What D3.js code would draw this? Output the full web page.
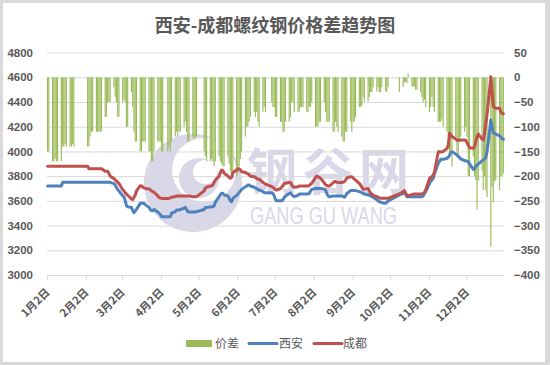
<!doctype html>
<html lang="zh">
<head>
<meta charset="UTF-8">
<title>西安-成都螺纹钢价格差趋势图</title>
<style>
  body { margin: 0; background: #fff; }
  svg text { fill: #595959; }
  .num { font-family: "Liberation Sans", Arial, sans-serif; font-size: 11.5px; font-weight: bold; }
  .cjk { font-family: "Noto Sans CJK SC", sans-serif; }
  .grid line { stroke: #d9d9d9; stroke-width: 1px; }
  .grid path { display: none; }
  .xaxis path { stroke: none; }
  .xaxis line { stroke: #d9d9d9; }
  .bar { fill: #9bbb59; }
  .line { fill: none; stroke-width: 3px; stroke-linejoin: round; stroke-linecap: round; }
  .mark { fill: #d8d8e8; }
</style>
</head>
<body>
<svg width="550" height="365"></svg>
<script src="https://cdn.jsdelivr.net/npm/d3@7"></script>
<script>
  // 月份刻度
  const monthLabels = ['1月2日', '2月2日', '3月2日', '4月2日', '5月2日', '6月2日',
    '7月2日', '8月2日', '9月2日', '10月2日', '11月2日', '12月2日']
  const leftTicks = [3000, 3200, 3400, 3600, 3800, 4000, 4200, 4400, 4600, 4800]
  const rightTicks = [-400, -350, -300, -250, -200, -150, -100, -50, 0, 50]
  // 休市的日期段 (2020)
  const holidays = [['2020-01-24', '2020-02-02'], ['2020-04-04', '2020-04-06'],
    ['2020-05-01', '2020-05-05'], ['2020-06-25', '2020-06-27'], ['2020-10-01', '2020-10-08']]

  // 西安 每个交易日
  const xian = [
    3720, 3720, 3720, 3720, 3720, 3720, 3720, 3720, 3750, 3750, 3750, 3750, 3750, 3750, 3750, 3750,
    3750, 3750, 3750, 3750, 3750, 3750, 3750, 3750, 3750, 3750, 3750, 3750, 3750, 3750, 3750, 3740, 3727, 3710, 3690, 3680,
    3640, 3634, 3600, 3560, 3553, 3547, 3520, 3504, 3520, 3531, 3580, 3580, 3580, 3580, 3570, 3547, 3530, 3520, 3520, 3531, 3510, 3500,
    3490, 3472, 3472, 3472, 3472, 3472, 3500, 3513, 3526, 3526, 3526, 3530, 3540, 3547, 3530, 3513, 3510, 3510, 3510, 3510, 3513,
    3530, 3547, 3547, 3550, 3553, 3553, 3560, 3590, 3634, 3650, 3661, 3661, 3648, 3640, 3620, 3600, 3594, 3620,
    3645, 3656, 3670, 3680, 3693, 3715, 3720, 3729, 3729, 3720, 3710, 3705, 3700, 3690, 3688, 3675, 3666, 3666, 3666, 3660,
    3640, 3610, 3600, 3600, 3600, 3610, 3629, 3640, 3660, 3666, 3650, 3640, 3634, 3645, 3656, 3656, 3656, 3656, 3656, 3656, 3660, 3680, 3693,
    3700, 3701, 3701, 3701, 3701, 3695, 3688, 3660, 3640, 3634, 3640, 3640, 3640, 3640, 3640, 3640, 3635, 3629, 3640, 3660, 3683,
    3683, 3683, 3683, 3683, 3675, 3670, 3666, 3660, 3655, 3648, 3645, 3640, 3634, 3630, 3610, 3600, 3594, 3590, 3585, 3580, 3590, 3599,
    3648, 3660, 3666, 3650, 3634, 3634, 3634, 3634, 3634, 3634, 3634, 3634, 3634, 3640, 3660, 3675,
    3740, 3760, 3770, 3782, 3820, 3904, 3920, 3936, 3936, 3936, 3945, 3953, 3970, 3990, 3998, 3980, 3971, 3960, 3950, 3940, 3925,
    3925, 3920, 3917, 3900, 3855, 3860, 3880, 3890, 3898, 3925, 3931, 3940, 3953, 4000, 4255, 4200, 4150, 4147, 4140, 4126, 4115, 4105, 4098
  ]

  // 成都
  const chengdu = [
    3880, 3880, 3880, 3880, 3880, 3880, 3880, 3880, 3880, 3880, 3880, 3880, 3880, 3880, 3880, 3880,
    3880, 3860, 3860, 3860, 3860, 3860, 3860, 3860, 3860, 3860, 3840, 3840, 3840, 3820, 3800, 3780, 3770, 3760, 3750, 3740,
    3690, 3680, 3665, 3655, 3645, 3615, 3610, 3630, 3648, 3680, 3723, 3720, 3712, 3705, 3700, 3696, 3690, 3680, 3675, 3670, 3640, 3625,
    3625, 3620, 3620, 3620, 3620, 3625, 3630, 3635, 3640, 3640, 3640, 3640, 3640, 3640, 3640, 3640, 3640, 3634, 3634, 3634, 3634,
    3680, 3705, 3710, 3720, 3720, 3730, 3750, 3769, 3800, 3830, 3850, 3845, 3823, 3800, 3790, 3782, 3790, 3830,
    3850, 3860, 3860, 3850, 3836, 3830, 3823, 3820, 3810, 3800, 3796, 3790, 3780, 3775, 3775, 3750, 3742, 3735, 3715, 3710,
    3700, 3690, 3688, 3700, 3710, 3725, 3740, 3742, 3748, 3748, 3730, 3715, 3710, 3715, 3720, 3720, 3720, 3720, 3720, 3720, 3725, 3735, 3742,
    3790, 3801, 3795, 3790, 3782, 3745, 3729, 3725, 3720, 3720, 3745, 3756, 3756, 3750, 3748, 3748, 3750, 3756, 3770, 3785, 3796,
    3796, 3785, 3775, 3769, 3740, 3729, 3710, 3693, 3695, 3701, 3680, 3660, 3656, 3645, 3634, 3630, 3625, 3621, 3621, 3621, 3621, 3621,
    3656, 3675, 3683, 3660, 3645, 3640, 3650, 3656, 3656, 3656, 3656, 3656, 3656, 3660, 3670, 3690,
    3780, 3790, 3796, 3810, 3836, 3998, 3998, 3995, 3998, 4000, 4025, 4050, 4147, 4135, 4120, 4100, 4090, 4090, 4090, 4093, 4093,
    4090, 4070, 4050, 4030, 4025, 4040, 4080, 4120, 4140, 4100, 4093, 4150, 4228, 4300, 4605, 4480, 4362, 4355, 4349, 4349, 4320, 4309, 4305
  ]

  // 价差 (右轴)
  const spread = [
    -150, -150, -170, -170, -165, -170, -170, -170, -140, -140, -135, -140, -140, -140, -135, -140,
    -140, -140, -120, -110, -110, -110, -110, -110, -110, -110, -80, -80, -50, -50, -50, -20, -40, -50, -80, -80,
    -50, -45, -50, -100, -100, -30, -60, -110, -130, -130, -150, -150, -130, -130, -130, -150, -150, -170, -170, -150, -130, -130,
    -130, -150, -150, -150, -140, -150, -130, -120, -110, -120, -110, -110, -100, -90, -110, -130, -130, -120, -125, -120, -120,
    -150, -160, -170, -170, -165, -170, -180, -170, -160, -170, -175, -180, -180, -160, -175, -190, -200, -195,
    -200, -195, -180, -165, -150, -120, -100, -100, -90, -80, -70, -80, -70, -90, -100, -70, -60, -70, -50, -60,
    -60, -80, -80, -90, -90, -110, -110, -90, -90, -80, -50, -50, -70, -70, -70, -60, -60, -60, -70, -70, -60, -60, -50,
    -100, -100, -100, -90, -90, -50, -70, -90, -90, -90, -110, -110, -90, -100, -110, -120, -130, -130, -110, -110, -90,
    -110, -90, -90, -80, -60, -59, -59, -40, -49, -49, -40, -30, -30, -20, -29, -20, -30, -30, -20, -29, -29, -20,
    -30, -20, -10, -10, -12, 8, -18, -20, -18, -25, -25, -30, -40, -50, -45, -60,
    -70, -60, -40, -60, -70, -90, -90, -90, -85, -100, -110, -120, -160, -150, -180, -120, -150, -160, -130, -120, -110,
    -100, -120, -200, -200, -160, -200, -208, -268, -210, -190, -228, -200, -228, -242, -343, -222, -253, -210, -208, -228, -200, -200, -195
  ]

  const parse = d3.timeParse('%Y-%m-%d')
  const closed = new Set(holidays.flatMap(([a, b]) =>
    d3.timeDay.range(parse(a), d3.timeDay.offset(parse(b), 1)).map(d => +d)))
  const days = d3.timeDay.range(parse('2020-01-02'), parse('2021-01-01'))
    .filter(d => d.getDay() % 6 !== 0 && !closed.has(+d))

  const rows = days.map((d, i) => ({date: d, xian: xian[i], chengdu: chengdu[i], spread: spread[i]}))

  const plotLeft = 47, plotRight = 504, plotTop = 52.6, plotBottom = 275
  const svg = d3.select('svg')

  // 外框
  svg.append('rect').attr('width', 550).attr('height', 365).attr('fill', '#d9d9d9')
  svg.append('rect').attr('x', 3).attr('y', 3).attr('width', 542).attr('height', 359).attr('fill', '#fff')

  const x = d3.scaleTime().domain([parse('2020-01-02'), parse('2021-01-01')]).range([plotLeft, plotRight])
  const yL = d3.scaleLinear().domain([3000, 4800]).range([plotBottom, plotTop])
  const yR = d3.scaleLinear().domain([-400, 50]).range([plotBottom, plotTop])
  const dayW = x(parse('2020-01-03')) - x(parse('2020-01-02'))

  // 水印
  const mark = svg.append('g')
  mark.append('circle').attr('class', 'mark').attr('cx', 193).attr('cy', 183).attr('r', 49)
  mark.append('circle').attr('fill', '#fff').attr('cx', 204).attr('cy', 170).attr('r', 32)
  mark.append('circle').attr('class', 'mark').attr('cx', 199).attr('cy', 178).attr('r', 20)
  mark.append('circle').attr('fill', '#fff').attr('cx', 205).attr('cy', 172).attr('r', 12)
  mark.append('text').attr('class', 'cjk').attr('x', 247).attr('y', 190)
    .attr('font-size', 50).attr('font-weight', 'bold').attr('letter-spacing', 6)
    .style('fill', '#d8d8e8').text('钢谷网')
  mark.append('text').attr('x', 250).attr('y', 224).attr('font-size', 24)
    .attr('font-family', '"Liberation Sans", sans-serif')
    .attr('textLength', 147).attr('lengthAdjust', 'spacingAndGlyphs')
    .style('fill', '#d8d8e8').text('GANG GU WANG')

  // 网格线
  svg.append('g').attr('class', 'grid').attr('transform', `translate(${plotLeft},0)`)
    .call(d3.axisLeft(yL).tickValues(leftTicks).tickSize(-(plotRight - plotLeft)).tickFormat(''))

  // 价差柱
  svg.append('g').selectAll('rect').data(rows).join('rect')
    .attr('class', 'bar')
    .attr('x', d => x(d.date))
    .attr('width', dayW * 0.9)
    .attr('y', d => yR(Math.max(0, d.spread)))
    .attr('height', d => Math.abs(yR(d.spread) - yR(0)))

  // 折线
  const series = [['xian', '#4f81bd'], ['chengdu', '#c0504d']]
  series.forEach(([key, color]) => {
    svg.append('path').datum(rows)
      .attr('class', 'line')
      .attr('stroke', color)
      .attr('d', d3.line().x(d => x(d.date) + dayW / 2).y(d => yL(d[key])))
  })

  // x 轴
  const tickDates = monthLabels.map((m, i) => new Date(2020, i, 2))
  const xAxis = svg.append('g').attr('class', 'xaxis').attr('transform', `translate(0,${plotBottom})`)
    .call(d3.axisBottom(x).tickValues(tickDates).tickFormat((d, i) => monthLabels[i])
      .tickSize(5).tickSizeOuter(0))
  xAxis.selectAll('text')
    .attr('class', 'cjk')
    .attr('font-size', 11).attr('font-weight', 'bold')
    .attr('x', 0).attr('y', 0).attr('dy', 0)
    .attr('text-anchor', 'end')
    .attr('transform', 'translate(3,18) rotate(-45)')

  // 左右轴标签
  const yAxisL = svg.append('g').attr('transform', `translate(${plotLeft},0)`)
    .call(d3.axisLeft(yL).tickValues(leftTicks).tickFormat(d3.format('d')).tickSize(0).tickPadding(14))
  const yAxisR = svg.append('g').attr('transform', `translate(${plotRight},0)`)
    .call(d3.axisRight(yR).tickValues(rightTicks).tickFormat(d3.format('d')).tickSize(0).tickPadding(10))
  ;[yAxisL, yAxisR].forEach(g => {
    g.select('.domain').remove()
    g.attr('font-size', null).attr('font-family', null)
    g.selectAll('text').attr('class', 'num')
  })

  // 标题
  svg.append('text').attr('class', 'cjk')
    .attr('x', 275).attr('y', 32).attr('text-anchor', 'middle')
    .attr('font-size', 18).attr('font-weight', 'bold')
    .text('西安-成都螺纹钢价格差趋势图')

  // 图例
  const legend = svg.append('g').attr('class', 'cjk').attr('font-size', 12)
  legend.append('rect').attr('x', 186).attr('y', 340).attr('width', 26).attr('height', 7).attr('fill', '#9bbb59')
  legend.append('text').attr('x', 215).attr('y', 348).text('价差')
  legend.append('line').attr('x1', 249).attr('x2', 277).attr('y1', 343.5).attr('y2', 343.5)
    .attr('stroke', '#4f81bd').attr('stroke-width', 3).attr('stroke-linecap', 'round')
  legend.append('text').attr('x', 279).attr('y', 348).text('西安')
  legend.append('line').attr('x1', 314).attr('x2', 342).attr('y1', 343.5).attr('y2', 343.5)
    .attr('stroke', '#c0504d').attr('stroke-width', 3).attr('stroke-linecap', 'round')
  legend.append('text').attr('x', 343).attr('y', 348).text('成都')
</script>
</body>
</html>
